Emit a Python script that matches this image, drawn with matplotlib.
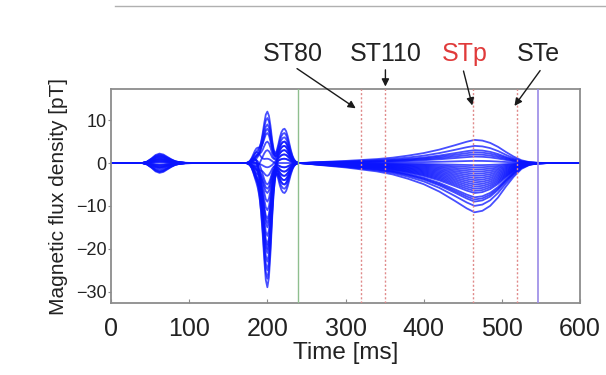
import numpy as np
import matplotlib
matplotlib.use("Agg")
import matplotlib.pyplot as plt
from matplotlib.lines import Line2D

plt.rcParams['font.family'] = ['Liberation Sans', 'DejaVu Sans']

# --- waveform shapes (normalised) ---
# P wave + baseline, 0..170 ms
p_times = [0, 20, 40, 46, 52, 57, 62, 67, 72, 77, 82, 88, 95, 110, 130, 150, 170]
p_shape = [0, 0, 0, 0.15, 0.5, 0.85, 1.0, 0.9, 0.65, 0.4, 0.2, 0.08, 0.02, 0, 0, 0, 0]

# QRS complex, 172..240 ms every 2 ms
qrs_times = [172, 174, 176, 178, 180, 182, 184, 186, 188, 190, 192, 194, 196, 198,
             200, 202, 204, 206, 208, 210, 212, 214, 216, 218, 220, 222, 224, 226,
             228, 230, 232, 234, 236, 238, 240]
q_shape = [0, 0.02, 0.08, 0.2, 0.4, 0.65, 0.88, 1.0, 0.92, 0.7, 0.42, 0.2, 0.07, 0.02,
           0, 0, 0, 0, 0, 0, 0, 0, 0, 0, 0, 0, 0, 0, 0, 0, 0, 0, 0, 0, 0]
r_shape = [0, 0, 0, 0, 0, 0.01, 0.03, 0.06, 0.12, 0.22, 0.37, 0.56, 0.77, 0.94,
           1.0, 0.92, 0.72, 0.46, 0.24, 0.1, 0.03, 0, 0, 0, 0, 0, 0, 0,
           0, 0, 0, 0, 0, 0, 0]
s_shape = [0, 0, 0, 0, 0, 0, 0, 0, 0, 0, 0, 0, 0, 0,
           0, 0, 0, 0, 0.05, 0.15, 0.32, 0.54, 0.75, 0.9, 0.98, 1.0, 0.93, 0.78,
           0.58, 0.38, 0.22, 0.11, 0.05, 0.02, 0]

# ST-T segment, 250..600 ms
t_times = [250, 260, 280, 300, 320, 340, 360, 380, 400, 420, 440, 455, 465, 475,
           485, 495, 505, 515, 525, 535, 545, 560, 580, 600]
t_shape = [0.01, 0.03, 0.06, 0.09, 0.13, 0.17, 0.23, 0.32, 0.43, 0.58, 0.77, 0.92, 1.0, 0.97,
           0.87, 0.7, 0.48, 0.28, 0.12, 0.04, 0.01, 0, 0, 0]

# per-channel amplitudes [pT]
p_amp = [1, 2, 1.5, -0.5, 0.8, -1, 2.2, -1.5, 0.3, -2, 1.2, -2.3, 0.5,
         -0.8, 1.8, -1.2, 0.2, -1.8, 0.9, -0.3, 1.4, -2.1, 0.6, -1, 1.7, -0.6]
q_amp = [1, 2, 0.5, 3, 1.5, -1, 2.5, 0, -1.5, 1, -2, 0.5, -1,
         -2.5, 1.5, -3, 0, -1.5, -2, 2, -3, -2, 1, -1, 0.5, -2.5]
r_amp = [12, 10.5, 9, 7, 5, 3, 1, -1, -3, -5, -7, -9, -11,
         -13, -15, -17, -19, -21, -23, -25, -27, -29, 8, -6, -14, -20]
s_amp = [6, 8, 4, 7, 2, 5, -1, 3, -3, 1, -5, -2, -7,
         0, -4, 2, -6, 4, -3, 1, -5, -2, 5, -4, 3, -1]
t_amp = [4, 5.4, 2, 3, 0.5, -1, 1.5, -2, -3, -4, -1.5, -5, -6,
         -2.5, -7, -3.5, -8, -9, -4.5, -10, -11.5, -6.5, 2.5, -5.5, -8.5, -0.5]

# marker lines [ms]
j_time = 239
st_times = [320, 351, 463, 519]
end_time = 546
st_labels = ['ST80', 'ST110', 'STp', 'STe']
st_colors = ['#222222', '#222222', '#e03a3a', '#222222']

fig = plt.figure(figsize=(6.06, 3.75), dpi=100)
ax = fig.add_axes([0.1832, 0.1928, 0.774, 0.569])

time = np.concatenate([p_times, qrs_times, t_times])
for i in range(len(r_amp)):
    part1 = p_amp[i] * np.array(p_shape)
    part2 = (q_amp[i] * np.array(q_shape) + r_amp[i] * np.array(r_shape)
             + s_amp[i] * np.array(s_shape))
    part3 = t_amp[i] * np.array(t_shape)
    ax.plot(time, np.concatenate([part1, part2, part3]),
            color='#0a14ff', lw=1.3, alpha=0.75, zorder=2)

ax.axvline(j_time, color='#8fbf8f', lw=1.0, zorder=3)
for t in st_times:
    ax.axvline(t, color='#e08a8a', lw=1.0, ls=(0, (1.5, 1.5)), zorder=3)
ax.axvline(end_time, color='#9a8ae6', lw=1.2, zorder=3)

ax.set_xlim(0, 600)
ax.set_ylim(-32.6, 17.2)
ax.set_xticks([0, 100, 200, 300, 400, 500, 600])
ax.set_yticks([-30, -20, -10, 0, 10])
for sp in ax.spines.values():
    sp.set_color('#8c8c8c')
    sp.set_linewidth(1.3)
ax.tick_params(axis='x', direction='in', length=3, color='#8c8c8c', labelsize=18, pad=10,
               labelcolor='#222222')
ax.tick_params(axis='y', direction='out', length=2, color='#8c8c8c', labelsize=13, pad=1,
               labelcolor='#222222')
ax.set_xlabel('Time [ms]', fontsize=17.5, labelpad=1, color='#222222')
ax.set_ylabel('Magnetic flux density [pT]', fontsize=15, labelpad=6, color='#222222')

# annotation arrows with labels above the box
arrow_kw = dict(arrowstyle='-|>', color='#1a1a1a', lw=1.0, mutation_scale=11)
heads = [(st_times[0] - 4, 12.4), (st_times[1], 17.2), (st_times[2], 12.8), (st_times[3] - 5, 12.8)]
tails = [(235, 22.4), (st_times[1], 22.4), (450, 22.1), (551, 22.1)]
text_x = [233, 352, 453, 547]
for lab, col, h, tl, tx in zip(st_labels, st_colors, heads, tails, text_x):
    ax.annotate('', xy=h, xytext=tl, arrowprops=arrow_kw, annotation_clip=False)
    ax.text(tx, 25.4, lab, color=col, fontsize=18, ha='center', va='center', clip_on=False)

# thin grey rule at the very top
fig.add_artist(Line2D([115 / 606, 1.0], [0.984, 0.984], color='#b0b0b0', lw=1.0))

fig.savefig('out.png', dpi=100)
